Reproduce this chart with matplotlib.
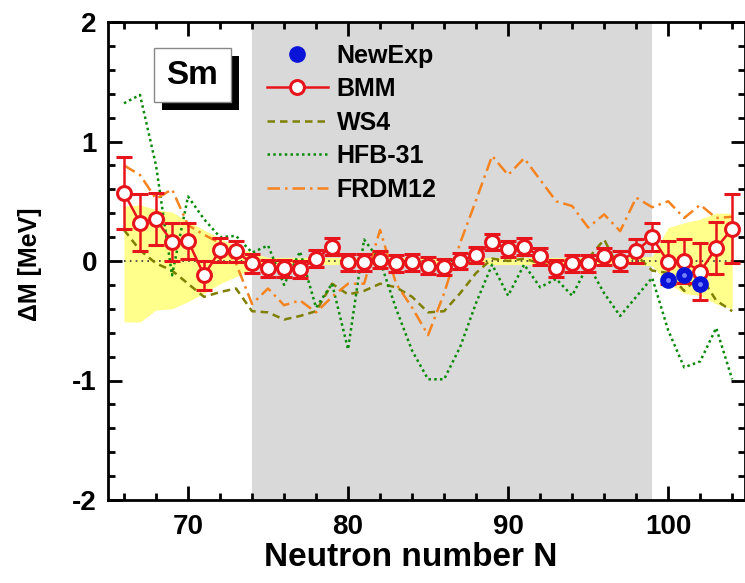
import matplotlib.pyplot as plt
from matplotlib.lines import Line2D
from matplotlib.patches import Rectangle
from matplotlib.ticker import MultipleLocator

plt.rcParams['font.family'] = ['Liberation Sans', 'DejaVu Sans']
plt.rcParams['font.weight'] = 'bold'
plt.rcParams['axes.unicode_minus'] = False

# mass differences (MeV) versus neutron number for Sm isotopes
N = list(range(66, 105))

bmm = [0.57, 0.32, 0.35, 0.16, 0.17, -0.12, 0.09, 0.08, -0.02, -0.06,
       -0.06, -0.07, 0.02, 0.12, -0.01, -0.01, 0.01, -0.02, -0.01, -0.04,
       -0.05, 0.00, 0.05, 0.16, 0.10, 0.12, 0.04, -0.06, -0.02, -0.02,
       0.04, 0.00, 0.08, 0.20, -0.01, 0.00, -0.09, 0.11, 0.27]
bmm_err = [0.30, 0.24, 0.22, 0.16, 0.15, 0.12, 0.10, 0.09, 0.08, 0.07,
           0.07, 0.07, 0.07, 0.07, 0.07, 0.07, 0.07, 0.07, 0.07, 0.07,
           0.07, 0.07, 0.07, 0.07, 0.07, 0.07, 0.07, 0.07, 0.07, 0.07,
           0.07, 0.08, 0.10, 0.12, 0.18, 0.18, 0.24, 0.22, 0.29]

band_hi = [0.46, 0.47, 0.43, 0.41, 0.33, 0.26, 0.19, 0.12, 0.07, 0.03,
           0.03, 0.03, 0.03, 0.03, 0.03, 0.03, 0.03, 0.03, 0.03, 0.03,
           0.03, 0.03, 0.03, 0.03, 0.03, 0.03, 0.03, 0.03, 0.03, 0.03,
           0.03, 0.03, 0.03, 0.04, 0.28, 0.32, 0.35, 0.40, 0.40]
band_lo = [-0.51, -0.51, -0.41, -0.40, -0.34, -0.27, -0.19, -0.13, -0.07, -0.03,
           -0.03, -0.03, -0.03, -0.03, -0.03, -0.03, -0.03, -0.03, -0.03, -0.03,
           -0.03, -0.03, -0.03, -0.03, -0.03, -0.03, -0.03, -0.03, -0.03, -0.03,
           -0.03, -0.03, -0.03, -0.04, -0.19, -0.27, -0.29, -0.36, -0.40]

ws4 = [0.26, 0.09, -0.02, -0.08, -0.19, -0.30, -0.26, -0.23, -0.42, -0.43,
       -0.49, -0.46, -0.42, -0.19, -0.28, -0.25, -0.19, -0.22, -0.30, -0.43,
       -0.42, -0.27, -0.10, 0.02, 0.00, 0.02, -0.02, -0.05, -0.02, 0.02,
       0.18, -0.08, 0.05, -0.08, -0.10, -0.25, -0.12, -0.33, -0.42]
hfb31 = [1.32, 1.39, 0.80, -0.12, 0.54, 0.35, 0.20, 0.21, 0.07, 0.13,
         -0.20, 0.08, -0.39, -0.19, -0.74, 0.18, 0.00, -0.40, -0.75, -0.99,
         -0.99, -0.72, -0.35, -0.03, -0.29, -0.03, -0.22, -0.15, -0.29, -0.03,
         -0.27, -0.46, -0.30, -0.14, -0.58, -0.89, -0.84, -0.56, -0.99]
frdm12 = [0.80, 0.72, 0.52, 0.60, 0.30, 0.22, 0.15, -0.02, -0.36, -0.23,
          -0.37, -0.33, -0.43, -0.30, -0.19, -0.19, 0.26, -0.19, -0.39, -0.62,
          -0.27, 0.15, 0.51, 0.88, 0.72, 0.86, 0.68, 0.50, 0.46, 0.28,
          0.39, 0.25, 0.53, 0.45, 0.50, 0.36, 0.47, 0.36, 0.37]

new_N = [100, 101, 102]
new_exp = [-0.16, -0.12, -0.19]

known_region = (74, 99)

RED = '#e8141c'
BLUE = '#0a14d8'

fig = plt.figure(figsize=(7.45, 5.83), dpi=100)
ax = fig.add_axes([108 / 745, 83 / 583, 637 / 745, 478 / 583])

ax.axvspan(*known_region, color='#d9d9d9', lw=0, zorder=0)
ax.fill_between(N, band_lo, band_hi, color='#ffff8c', lw=0, zorder=1)
ax.plot([N[0], N[-1]], [0, 0], color='#333333', lw=1.2, ls=(0, (1, 2.5)), zorder=2)

ax.plot(N, ws4, color='#7f7f00', lw=1.8, ls=(0, (3, 2)), zorder=3)
ax.plot(N, hfb31, color='#0a8a0a', lw=1.8, ls=(0, (1, 1.3)), zorder=3)
ax.plot(N, frdm12, color='#f5831f', lw=1.8, ls=(0, (5, 2, 1, 2)), zorder=3)

ax.errorbar(N, bmm, yerr=bmm_err, color=RED, lw=1.8, elinewidth=1.8,
            capsize=6, capthick=1.8, marker='o', ms=10, mfc='white',
            mec=RED, mew=2.2, zorder=4)

ax.plot(new_N, new_exp, ls='none', marker='o', ms=11, mfc=BLUE, mec=BLUE, zorder=5)
ax.plot(new_N, new_exp, ls='none', marker='o', ms=3.5, mfc='#8f9cff', mec='none',
        alpha=0.8, zorder=6)

ax.set_xlim(65, 104.8)
ax.set_ylim(-2, 2)
ax.xaxis.set_major_locator(MultipleLocator(10))
ax.xaxis.set_minor_locator(MultipleLocator(2))
ax.yaxis.set_major_locator(MultipleLocator(1))
ax.yaxis.set_minor_locator(MultipleLocator(0.2))
ax.tick_params(which='both', direction='in', top=True, right=True, width=2,
               labelsize=20)
ax.tick_params(axis='x', pad=10)
ax.tick_params(axis='y', pad=8)
ax.tick_params(which='major', length=10)
ax.tick_params(which='minor', length=5)
for s in ax.spines.values():
    s.set_linewidth(2)

ax.set_xlabel('Neutron number N', fontsize=24, fontweight='bold')
ax.set_ylabel('\u0394M [MeV]', fontsize=18, fontweight='bold')
ax.xaxis.set_label_coords(0.475, -0.088)
ax.yaxis.set_label_coords(-0.104, 0.494)

# element tag with drop shadow
ax.add_patch(Rectangle((0.085, 0.816), 0.121, 0.112, transform=ax.transAxes,
                       facecolor='black', edgecolor='none', zorder=7))
ax.add_patch(Rectangle((0.072, 0.833), 0.121, 0.112, transform=ax.transAxes,
                       facecolor='white', edgecolor='#888888', lw=1, zorder=8))
ax.text(0.1325, 0.889, 'Sm', transform=ax.transAxes, ha='center', va='center',
        fontsize=24, fontweight='bold', zorder=9)

handles = [
    Line2D([], [], ls='none', marker='o', ms=11, mfc=BLUE, mec=BLUE),
    Line2D([], [], color=RED, lw=1.8, marker='o', ms=10, mfc='white', mec=RED, mew=2.2),
    Line2D([], [], color='#7f7f00', lw=1.8, ls=(0, (3, 2))),
    Line2D([], [], color='#0a8a0a', lw=1.8, ls=(0, (1, 1.3))),
    Line2D([], [], color='#f5831f', lw=1.8, ls=(0, (5, 2, 1, 2))),
]
labels = ['NewExp', 'BMM', 'WS4', 'HFB-31', 'FRDM12']
ax.legend(handles, labels, loc='upper left', bbox_to_anchor=(0.249, 0.955),
          frameon=False, fontsize=18, handlelength=2.45, handletextpad=0.35,
          labelspacing=0.38, borderpad=0, borderaxespad=0, numpoints=1)

fig.savefig('out.png', dpi=100)
